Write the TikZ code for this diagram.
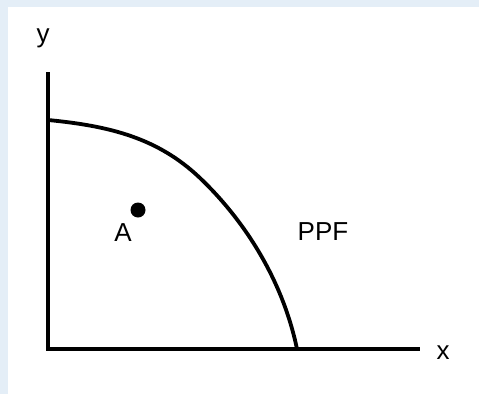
\documentclass[tikz,border=0pt]{standalone}
\usepackage{fontspec}
\setmainfont{Liberation Sans}
\definecolor{frame}{HTML}{E4EEF7}
\begin{document}
\begin{tikzpicture}[x=1pt,y=-1pt,
  axis/.style={line width=3.2pt},
  curve/.style={line width=3.8pt},
  lbl/.style={inner sep=0pt,font=\fontsize{26}{30}\selectfont}]
\useasboundingbox (0,0) rectangle (479,394);
\fill[frame] (0,0) rectangle (479,394);
\fill[white] (8,7) rectangle (479,394);
\coordinate (O) at (48,349);
\coordinate (ytop) at (48,72);
\coordinate (xend) at (420,349);
\draw[axis] (ytop) -- (O) -- (xend);
\node[lbl] (ylab) at (43,38) {y};
\node[lbl] (xlab) at (443,353) {x};
\draw[curve] (48,120) .. controls (110,126) and (158,138) .. (200,178)
  .. controls (242,218) and (282,277) .. (297,349);
\fill (138,210) circle (7.5);
\node[lbl] (A) at (123,233) {A};
\node[lbl] (ppf) at (323,232) {PPF};
\end{tikzpicture}
\end{document}
